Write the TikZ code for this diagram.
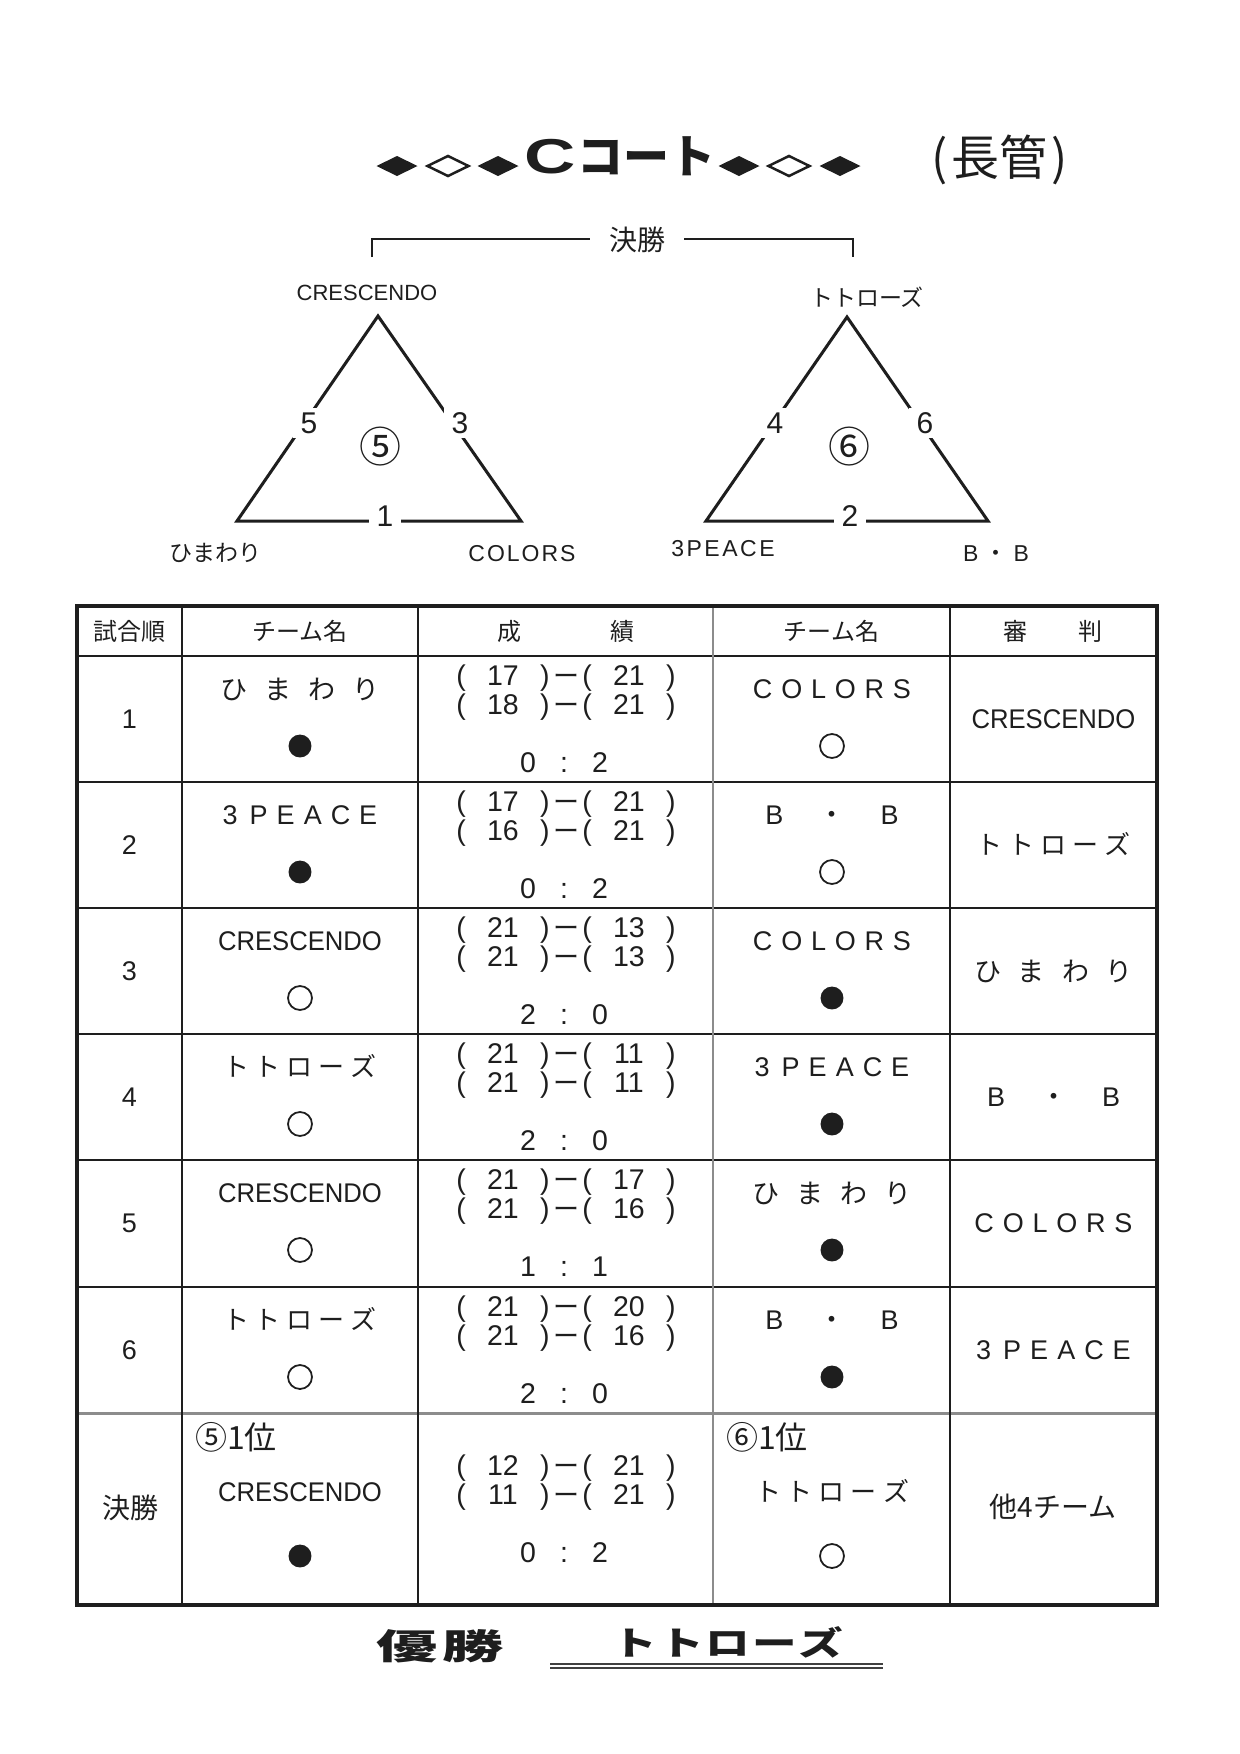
\documentclass[tikz,border=0pt]{standalone}
\usepackage{fontspec}
\usepackage{graphicx}
\setmainfont{Liberation Sans}
\newfontfamily\jp{Noto Sans CJK JP}
\newdimen\upx \upx=0.48pt
\newcommand\fs[1]{\fontsize{\fpeval{#1*0.48}pt}{\fpeval{#1*0.6}pt}\selectfont}
\makeatletter
\newcommand\ls[2]{\def\ls@first{1}\@tfor\ls@c:=#2\do{\ifx\ls@first\@empty\kern#1\upx\fi\def\ls@first{}\ls@c}}
\makeatother
\definecolor{ink}{HTML}{1E1E1E}
\definecolor{gline}{HTML}{8C8C8C}
\newcommand\score[2]{\makebox[12\upx]{(}\makebox[72\upx]{#1}\makebox[12\upx]{)}\makebox[30\upx]{\jp\fs{26}ー}\makebox[12\upx]{(}\makebox[72\upx]{#2}\makebox[12\upx]{)}}
\newcommand\result[3]{\makebox[36\upx]{#1}\makebox[36\upx]{#2}\makebox[36\upx]{#3}}
\newcommand\cHim{\ls{17}{ひまわり}}
\newcommand\cPea{3\kern12\upx\ls{9}{PEACE}}
\newcommand\cBB{B\kern35\upx{\jp ・}\kern35\upx B}
\newcommand\cCol{\ls{8.8}{COLORS}}
\newcommand\cCre{\scalebox{0.95}[1]{CRESCENDO}}
\newcommand\cTot{\ls{6}{トトローズ}}
\tikzset{
  L/.style={inner sep=0pt, font=\fs{#1}, text=ink, text height=\fpeval{#1*0.345}pt, text depth=0pt},
  J/.style={inner sep=0pt, font=\jp\fs{#1}, text=ink, text height=\fpeval{#1*0.365}pt, text depth=0pt},
  tHim/.style={J=27}, tPea/.style={L=27}, tBB/.style={L=27},
  tCol/.style={L=27}, tCre/.style={L=27}, tTot/.style={J=26},
  markf/.style={circle, fill=ink, inner sep=0pt, minimum size=11pt},
  marko/.style={circle, draw=ink, line width=0.85pt, inner sep=0pt, minimum size=11.5pt},
  hl/.style={draw=ink, line width=1.2pt},
  gl/.style={draw=gline, line width=1.44pt},
  vthick/.style={draw=ink, line width=1.2pt},
  vthin/.style={draw=ink, line width=0.72pt},
  vgray/.style={draw=gline, line width=0.96pt},
  outer/.style={draw=ink, line width=1.5pt},
  tri/.style={draw=ink, line width=1.45pt, line join=miter},
  edgelab/.style={L=30, fill=white, inner xsep=3.8pt, inner ysep=2pt},
  brk/.style={draw=ink, line width=1.3pt},
  uline/.style={draw=ink!85, line width=0.7pt},
}
\newcommand\dia[3]{\path[#3] (#1-20.5,#2) -- (#1,#2-10) -- (#1+20.5,#2) -- (#1,#2+10) -- cycle;}
\newcommand\matchrow[9]{%
  \node[L=27] (no#1) at (129.5,#2+63) {#1};
  \node[t#3] (lt#1) at (300,#2+33) {\csname c#3\endcsname};
  \node[mark#4] (lm#1) at (300,#2+90) {};
  \node[L=28.5] (sa#1) at (566,#2+19) {\score#5};
  \node[L=28.5] (sb#1) at (566,#2+48) {\score#6};
  \node[L=28.5] (rs#1) at (564,#2+106) {\result#7};
  \node[t#8] (rt#1) at (832,#2+33) {\csname c#8\endcsname};
  \node[mark#9] (rm#1) at (832,#2+90) {};
}
\begin{document}
\begin{tikzpicture}[x=0.48pt,y=-0.48pt]
\useasboundingbox (0,0) rectangle (1240,1754);
\fill[white] (0,0) rectangle (1240,1754);
% ---------- title ----------
\dia{397}{166}{fill=ink}
\dia{448}{166}{draw=ink, line width=1.2pt}
\dia{498}{166}{fill=ink}
\node[L=49, anchor=west] (title) at (524,156) {\bfseries\scalebox{1.45}[1]{C}\kern2\upx{\jp\fs{46}コート}};
\dia{739}{166}{fill=ink}
\dia{789}{166}{draw=ink, line width=1.2pt}
\dia{840}{166}{fill=ink}
\node[J=48] (kan) at (1000,157) {(\kern4\upx 長管\kern4\upx)};
% ---------- final bracket ----------
\coordinate (bkl) at (372,257);
\coordinate (bkr) at (853,257);
\draw[brk] (bkl) -- ++(0,-18) -| (bkr);
\node[J=28, fill=white, inner xsep=9pt] (kessho) at (637,240) {決勝};
% ---------- triangle 1 ----------
\coordinate (t1a) at (378,316);
\coordinate (t1b) at (237,521);
\coordinate (t1c) at (521,521);
\draw[tri] (t1a) -- (t1b) -- (t1c) -- cycle;
\node[edgelab] (e5) at (309,423) {5};
\node[edgelab] (e3) at (460,423) {3};
\node[edgelab] (e1) at (385,516) {1};
\node[J=42] (g5) at (380,447) {⑤};
\node[L=22] (v1a) at (367,293) {CRESCENDO};
\node[J=23] (v1b) at (215,553) {ひまわり};
\node[L=23] (v1c) at (522,553) {\ls{2}{COLORS}};
% ---------- triangle 2 ----------
\coordinate (t2a) at (847,317);
\coordinate (t2b) at (706,521);
\coordinate (t2c) at (988,521);
\draw[tri] (t2a) -- (t2b) -- (t2c) -- cycle;
\node[edgelab] (e4) at (775,423) {4};
\node[edgelab] (e6) at (925,423) {6};
\node[edgelab] (e2) at (850,516) {2};
\node[J=42] (g6) at (849,447) {⑥};
\node[J=23] (v2a) at (867,298) {トトローズ};
\node[L=23] (v2b) at (723,548) {\ls{2.5}{3PEACE}};
\node[L=23] (v2c) at (996,553) {B\kern6\upx{\jp ・}\kern6\upx B};
% ---------- table lines ----------
\foreach \yy in {656,782,908,1034,1160,1287} \draw[hl] (77,\yy) -- (1157,\yy);
\draw[gl] (77,1413) -- (1157,1413);
\draw[vthick] (182,606) -- (182,1605);
\draw[vthin] (418,606) -- (418,1605);
\draw[vgray] (713,606) -- (713,1605);
\draw[vthin] (950,606) -- (950,1605);
\draw[outer] (77,606) rectangle (1157,1605);
% ---------- header ----------
\node[J=24] (h1) at (129.5,631) {試合順};
\node[J=24] (h2) at (300,631) {チーム名};
\node[J=24] (h3) at (565.5,631) {成\kern89\upx 績};
\node[J=24] (h4) at (831.5,631) {チーム名};
\node[J=24] (h5) at (1053,631) {審\kern51\upx 判};
% ---------- rows ----------
\matchrow{1}{656}{Him}{f}{{17}{21}}{{18}{21}}{{0}{:}{2}}{Col}{o}
\matchrow{2}{782}{Pea}{f}{{17}{21}}{{16}{21}}{{0}{:}{2}}{BB}{o}
\matchrow{3}{908}{Cre}{o}{{21}{13}}{{21}{13}}{{2}{:}{0}}{Col}{f}
\matchrow{4}{1034}{Tot}{o}{{21}{11}}{{21}{11}}{{2}{:}{0}}{Pea}{f}
\matchrow{5}{1160}{Cre}{o}{{21}{17}}{{21}{16}}{{1}{:}{1}}{Him}{f}
\matchrow{6}{1287}{Tot}{o}{{21}{20}}{{21}{16}}{{2}{:}{0}}{BB}{f}
\node[tCre] (rf1) at (1053.5,719) {\cCre};
\node[tTot] (rf2) at (1053.5,845) {\cTot};
\node[tHim] (rf3) at (1053.5,971) {\cHim};
\node[tBB]  (rf4) at (1053.5,1097) {\cBB};
\node[tCol] (rf5) at (1053.5,1223) {\cCol};
\node[tPea] (rf6) at (1053.5,1350) {\cPea};
% ---------- final row ----------
\node[J=28] (fno) at (130,1508) {決勝};
\node[J=32] (q5) at (236,1437) {⑤1位};
\node[tCre] (fl) at (300,1492) {\cCre};
\node[markf] (flm) at (300,1556) {};
\node[L=28.5] (fs1) at (566,1465) {\score{12}{21}};
\node[L=28.5] (fs2) at (566,1494) {\score{11}{21}};
\node[L=28.5] (fres) at (564,1552) {\result{0}{:}{2}};
\node[J=32] (q6) at (767,1437) {⑥1位};
\node[tTot] (fr) at (832,1492) {\cTot};
\node[marko] (frm) at (832,1556) {};
\node[J=28] (fref) at (1053,1507) {他4チーム};
% ---------- winner ----------
\node[J=35] (yusho) at (440,1646) {\bfseries\scalebox{1.75}[1]{優\kern3\upx 勝}};
\node[J=33] (winner) at (728,1643) {\bfseries\scalebox{1.35}[1]{\ls{1.5}{トトローズ}}};
\coordinate (ula) at (550,1664);
\coordinate (ulb) at (883,1664);
\draw[uline] (ula) -- (ulb);
\draw[uline] ([yshift=-1.9pt]ula) -- ([yshift=-1.9pt]ulb);
\end{tikzpicture}
\end{document}
